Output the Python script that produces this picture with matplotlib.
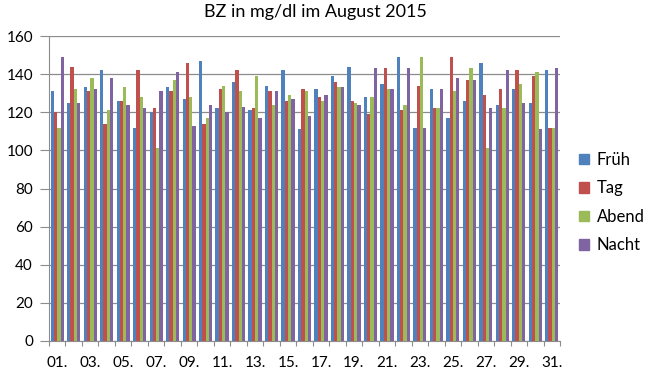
import numpy as np
import matplotlib
matplotlib.use("Agg")
import matplotlib.pyplot as plt
from matplotlib.patches import Patch

# Daten (BZ-Werte August 2015)
tage = ["%02d." % d for d in range(1, 32)]
frueh = [131, 125, 133, 142, 126, 112, 120, 133, 127, 147, 122, 136, 121, 134, 142, 111,
         132, 139, 144, 128, 135, 149, 112, 132, 117, 126, 146, 124, 132, 125, 142]
tag = [120, 144, 131, 114, 126, 142, 122, 131, 146, 114, 132, 142, 122, 131, 126, 132,
       128, 136, 126, 119, 143, 121, 134, 122, 149, 137, 129, 132, 142, 139, 112]
abend = [112, 132, 138, 121, 133, 128, 101, 137, 128, 117, 134, 131, 139, 124, 129, 131,
         126, 133, 125, 128, 132, 124, 149, 122, 131, 143, 101, 122, 135, 141, 112]
nacht = [149, 125, 132, 138, 124, 122, 131, 141, 113, 124, 120, 123, 117, 131, 127, 118,
         129, 133, 124, 143, 132, 143, 112, 132, 138, 137, 122, 142, 125, 111, 143]

serien = ["Früh", "Tag", "Abend", "Nacht"]
farben = ["#4F81BD", "#C0504D", "#9BBB59", "#8064A2"]

plt.rcParams['font.family'] = ['Lato', 'DejaVu Sans']

fig = plt.figure(figsize=(6.47, 3.75), dpi=100)
ax = fig.add_axes([49 / 647, 1 - 341 / 375, 511 / 647, 305 / 375])

x = np.arange(len(tage))
w = 0.2
for i, werte in enumerate([frueh, tag, abend, nacht]):
    ax.bar(x + (i - 1.5) * w, werte, width=w, color=farben[i], zorder=3)

ax.set_xlim(-0.5, len(tage) - 0.5)
ax.set_ylim(0, 160)
ax.set_yticks(range(0, 161, 20))
ax.yaxis.grid(True, color="#8c8c8c", linewidth=0.9, zorder=0)

# Kategorie-Ticks zwischen den Tagen, Beschriftung jeden zweiten Tag
ax.set_xticks(np.arange(-0.5, len(tage), 1), minor=False)
ax.set_xticklabels([])
ax.set_xticks(x[::2], minor=True)
ax.set_xticklabels(tage[::2], minor=True, fontsize=11)
ax.tick_params(axis="x", which="major", length=3.6, color="#8c8c8c", direction="out")
ax.tick_params(axis="x", which="minor", length=0, pad=10.5)
ax.tick_params(axis="y", length=6.5, color="#8c8c8c", labelsize=11, pad=5)

for s in ["top", "right"]:
    ax.spines[s].set_visible(False)
for s in ["left", "bottom"]:
    ax.spines[s].set_color("#8c8c8c")

fig.text(315 / 647, 1 - 17 / 375, "BZ in mg/dl im August 2015", fontsize=13,
         ha="center", va="baseline")

handles = [Patch(color=c, label=s) for s, c in zip(serien, farben)]
fig.legend(handles=handles, loc="center left", bbox_to_anchor=(564 / 647, 0.46),
           frameon=False, fontsize=12, handlelength=0.6, handleheight=0.6,
           labelspacing=0.75, handletextpad=0.45)

plt.savefig("out.png", dpi=100)
